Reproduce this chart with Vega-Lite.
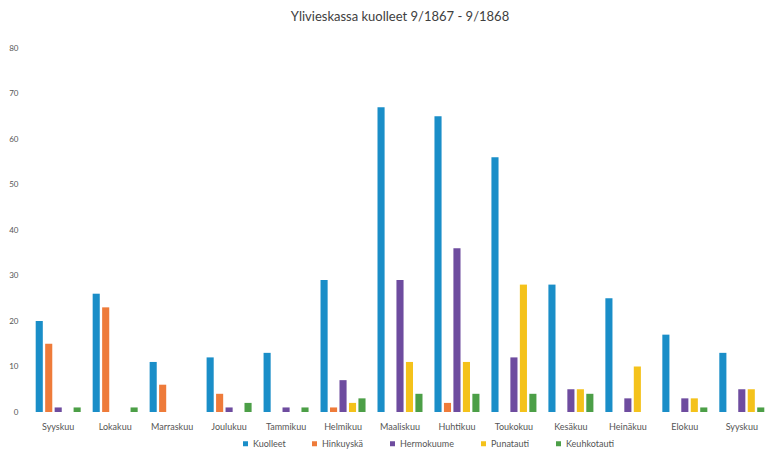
{
  "$schema": "https://vega.github.io/schema/vega-lite/v6.json",
  "autosize": {"type": "none"},
  "width": 740,
  "height": 364,
  "padding": {"left": 30, "top": 48, "right": 6, "bottom": 43},
  "background": "#ffffff",
  "title": {
    "text": "Ylivieskassa kuolleet 9/1867 - 9/1868",
    "font": "Lato",
    "fontSize": 13,
    "fontWeight": "normal",
    "color": "#404040",
    "anchor": "middle",
    "offset": 20
  },
  "data": {
    "values": [
      {"kuukausi": "Syyskuu 1867", "sairaus": "Kuolleet", "lkm": 20},
      {"kuukausi": "Syyskuu 1867", "sairaus": "Hinkuyskä", "lkm": 15},
      {"kuukausi": "Syyskuu 1867", "sairaus": "Hermokuume", "lkm": 1},
      {"kuukausi": "Syyskuu 1867", "sairaus": "Punatauti", "lkm": 0},
      {"kuukausi": "Syyskuu 1867", "sairaus": "Keuhkotauti", "lkm": 1},
      {"kuukausi": "Lokakuu", "sairaus": "Kuolleet", "lkm": 26},
      {"kuukausi": "Lokakuu", "sairaus": "Hinkuyskä", "lkm": 23},
      {"kuukausi": "Lokakuu", "sairaus": "Hermokuume", "lkm": 0},
      {"kuukausi": "Lokakuu", "sairaus": "Punatauti", "lkm": 0},
      {"kuukausi": "Lokakuu", "sairaus": "Keuhkotauti", "lkm": 1},
      {"kuukausi": "Marraskuu", "sairaus": "Kuolleet", "lkm": 11},
      {"kuukausi": "Marraskuu", "sairaus": "Hinkuyskä", "lkm": 6},
      {"kuukausi": "Marraskuu", "sairaus": "Hermokuume", "lkm": 0},
      {"kuukausi": "Marraskuu", "sairaus": "Punatauti", "lkm": 0},
      {"kuukausi": "Marraskuu", "sairaus": "Keuhkotauti", "lkm": 0},
      {"kuukausi": "Joulukuu", "sairaus": "Kuolleet", "lkm": 12},
      {"kuukausi": "Joulukuu", "sairaus": "Hinkuyskä", "lkm": 4},
      {"kuukausi": "Joulukuu", "sairaus": "Hermokuume", "lkm": 1},
      {"kuukausi": "Joulukuu", "sairaus": "Punatauti", "lkm": 0},
      {"kuukausi": "Joulukuu", "sairaus": "Keuhkotauti", "lkm": 2},
      {"kuukausi": "Tammikuu", "sairaus": "Kuolleet", "lkm": 13},
      {"kuukausi": "Tammikuu", "sairaus": "Hinkuyskä", "lkm": 0},
      {"kuukausi": "Tammikuu", "sairaus": "Hermokuume", "lkm": 1},
      {"kuukausi": "Tammikuu", "sairaus": "Punatauti", "lkm": 0},
      {"kuukausi": "Tammikuu", "sairaus": "Keuhkotauti", "lkm": 1},
      {"kuukausi": "Helmikuu", "sairaus": "Kuolleet", "lkm": 29},
      {"kuukausi": "Helmikuu", "sairaus": "Hinkuyskä", "lkm": 1},
      {"kuukausi": "Helmikuu", "sairaus": "Hermokuume", "lkm": 7},
      {"kuukausi": "Helmikuu", "sairaus": "Punatauti", "lkm": 2},
      {"kuukausi": "Helmikuu", "sairaus": "Keuhkotauti", "lkm": 3},
      {"kuukausi": "Maaliskuu", "sairaus": "Kuolleet", "lkm": 67},
      {"kuukausi": "Maaliskuu", "sairaus": "Hinkuyskä", "lkm": 0},
      {"kuukausi": "Maaliskuu", "sairaus": "Hermokuume", "lkm": 29},
      {"kuukausi": "Maaliskuu", "sairaus": "Punatauti", "lkm": 11},
      {"kuukausi": "Maaliskuu", "sairaus": "Keuhkotauti", "lkm": 4},
      {"kuukausi": "Huhtikuu", "sairaus": "Kuolleet", "lkm": 65},
      {"kuukausi": "Huhtikuu", "sairaus": "Hinkuyskä", "lkm": 2},
      {"kuukausi": "Huhtikuu", "sairaus": "Hermokuume", "lkm": 36},
      {"kuukausi": "Huhtikuu", "sairaus": "Punatauti", "lkm": 11},
      {"kuukausi": "Huhtikuu", "sairaus": "Keuhkotauti", "lkm": 4},
      {"kuukausi": "Toukokuu", "sairaus": "Kuolleet", "lkm": 56},
      {"kuukausi": "Toukokuu", "sairaus": "Hinkuyskä", "lkm": 0},
      {"kuukausi": "Toukokuu", "sairaus": "Hermokuume", "lkm": 12},
      {"kuukausi": "Toukokuu", "sairaus": "Punatauti", "lkm": 28},
      {"kuukausi": "Toukokuu", "sairaus": "Keuhkotauti", "lkm": 4},
      {"kuukausi": "Kesäkuu", "sairaus": "Kuolleet", "lkm": 28},
      {"kuukausi": "Kesäkuu", "sairaus": "Hinkuyskä", "lkm": 0},
      {"kuukausi": "Kesäkuu", "sairaus": "Hermokuume", "lkm": 5},
      {"kuukausi": "Kesäkuu", "sairaus": "Punatauti", "lkm": 5},
      {"kuukausi": "Kesäkuu", "sairaus": "Keuhkotauti", "lkm": 4},
      {"kuukausi": "Heinäkuu", "sairaus": "Kuolleet", "lkm": 25},
      {"kuukausi": "Heinäkuu", "sairaus": "Hinkuyskä", "lkm": 0},
      {"kuukausi": "Heinäkuu", "sairaus": "Hermokuume", "lkm": 3},
      {"kuukausi": "Heinäkuu", "sairaus": "Punatauti", "lkm": 10},
      {"kuukausi": "Heinäkuu", "sairaus": "Keuhkotauti", "lkm": 0},
      {"kuukausi": "Elokuu", "sairaus": "Kuolleet", "lkm": 17},
      {"kuukausi": "Elokuu", "sairaus": "Hinkuyskä", "lkm": 0},
      {"kuukausi": "Elokuu", "sairaus": "Hermokuume", "lkm": 3},
      {"kuukausi": "Elokuu", "sairaus": "Punatauti", "lkm": 3},
      {"kuukausi": "Elokuu", "sairaus": "Keuhkotauti", "lkm": 1},
      {"kuukausi": "Syyskuu 1868", "sairaus": "Kuolleet", "lkm": 13},
      {"kuukausi": "Syyskuu 1868", "sairaus": "Hinkuyskä", "lkm": 0},
      {"kuukausi": "Syyskuu 1868", "sairaus": "Hermokuume", "lkm": 5},
      {"kuukausi": "Syyskuu 1868", "sairaus": "Punatauti", "lkm": 5},
      {"kuukausi": "Syyskuu 1868", "sairaus": "Keuhkotauti", "lkm": 1}
    ]
  },
  "mark": {"type": "bar"},
  "encoding": {
    "x": {
      "field": "kuukausi",
      "type": "nominal",
      "sort": null,
      "scale": {"paddingInner": 0.21, "paddingOuter": 0.1},
      "axis": {
        "title": null,
        "labelAngle": 0,
        "domain": false,
        "ticks": false,
        "labelPadding": 10,
        "labelFont": "Lato",
        "labelFontSize": 9,
        "labelColor": "#555555",
        "labelExpr": "split(datum.label, ' ')[0]"
      }
    },
    "xOffset": {
      "field": "sairaus",
      "type": "nominal",
      "sort": ["Kuolleet", "Hinkuyskä", "Hermokuume", "Punatauti", "Keuhkotauti"],
      "scale": {"paddingInner": 0.25}
    },
    "y": {
      "field": "lkm",
      "type": "quantitative",
      "scale": {"domain": [0, 80]},
      "axis": {
        "title": null,
        "values": [0, 10, 20, 30, 40, 50, 60, 70, 80],
        "grid": false,
        "domain": false,
        "ticks": false,
        "labelPadding": 12,
        "labelFont": "Lato",
        "labelFontSize": 8,
        "labelColor": "#555555"
      }
    },
    "color": {
      "field": "sairaus",
      "type": "nominal",
      "sort": ["Kuolleet", "Hinkuyskä", "Hermokuume", "Punatauti", "Keuhkotauti"],
      "scale": {
        "domain": ["Kuolleet", "Hinkuyskä", "Hermokuume", "Punatauti", "Keuhkotauti"],
        "range": ["#1a8ec8", "#ee7b3a", "#6e4c9f", "#f4c21b", "#4c9f47"]
      },
      "legend": {
        "title": null,
        "orient": "none",
        "direction": "horizontal",
        "legendX": 211,
        "legendY": 391,
        "symbolType": "square",
        "symbolSize": 25,
        "labelFont": "Lato",
        "labelFontSize": 9,
        "labelColor": "#555555",
        "columnPadding": 24,
        "labelOffset": 3
      }
    }
  },
  "config": {"view": {"stroke": null}}
}
